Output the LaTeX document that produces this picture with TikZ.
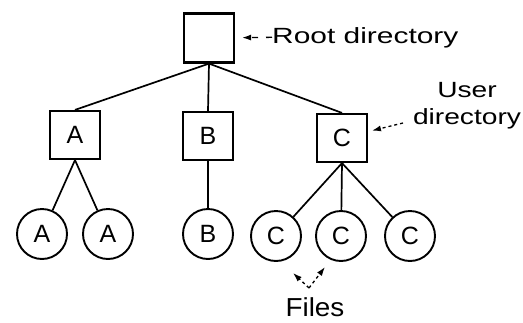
\documentclass[tikz,border=0pt]{standalone}
\usepackage{fontspec}
\setmainfont{Liberation Sans}
\usetikzlibrary{arrows.meta}
\begin{document}
\begin{tikzpicture}[x=1pt,y=-1pt,
  dirbox/.style={draw, line width=2.2pt, minimum width=50pt, minimum height=48pt, inner sep=0pt, font=\fontsize{25}{25}\selectfont},
  filenode/.style={draw, circle, line width=1.9pt, minimum size=50pt, inner sep=0pt, font=\fontsize{25}{25}\selectfont},
  edge/.style={line width=1.7pt},
  ptr/.style={line width=1.3pt, dash pattern=on 3pt off 3pt, -{Latex[length=9pt,width=6pt]}},
  lbl/.style={inner sep=0pt, font=\fontsize{22}{22}\selectfont}
]
\useasboundingbox (0,0) rectangle (523,322);
% directories
\node[dirbox, minimum height=49pt] (root) at (209,38) {};
\node[dirbox] (A) at (75,135) {A};
\node[dirbox] (B) at (208,136) {B};
\node[dirbox] (C) at (342,138) {C};
% files
\node[filenode] (a1) at (42,234) {A};
\node[filenode] (a2) at (108,234) {A};
\node[filenode] (b1) at (208,234) {B};
\node[filenode] (c1) at (276,236) {C};
\node[filenode] (c2) at (341,236) {C};
\node[filenode] (c3) at (410,236) {C};
% tree edges
\draw[edge] (root.south) -- (A.north);
\draw[edge] (root.south) -- (B.north);
\draw[edge] (root.south) -- (C.north);
\draw[edge] (A.south) -- (a1);
\draw[edge] (A.south) -- (a2);
\draw[edge] (B.south) -- (b1);
\draw[edge] (C.south) -- (c1);
\draw[edge] (C.south) -- (c2);
\draw[edge] (C.south) -- (c3);
% labels
\node[lbl, anchor=base west] (rootlbl) at (272,43) {\scalebox{1.36}[1]{Root directory}};
\node[lbl, anchor=base] (userlbl) at (467,97) {\scalebox{1.28}[1]{User}};
\node[lbl, anchor=base] (dirlbl) at (467,124) {\scalebox{1.28}[1]{directory}};
\node[inner sep=0pt, anchor=base, font=\fontsize{26}{26}\selectfont] (fileslbl) at (315,316) {\scalebox{1.07}[1]{Files}};
% pointers
\draw[ptr, dash pattern=on 6pt off 8pt, shorten >=7pt] (rootlbl.west) -- (root);
\coordinate (up) at (403,123);
\draw[ptr, shorten >=4pt] (up) -- (C);
\coordinate (fv) at (309,288);
\coordinate (fl) at (293,273);
\coordinate (fr) at (325,267);
\draw[ptr] (fv) -- (fl);
\draw[ptr] (fv) -- (fr);
\end{tikzpicture}
\end{document}
